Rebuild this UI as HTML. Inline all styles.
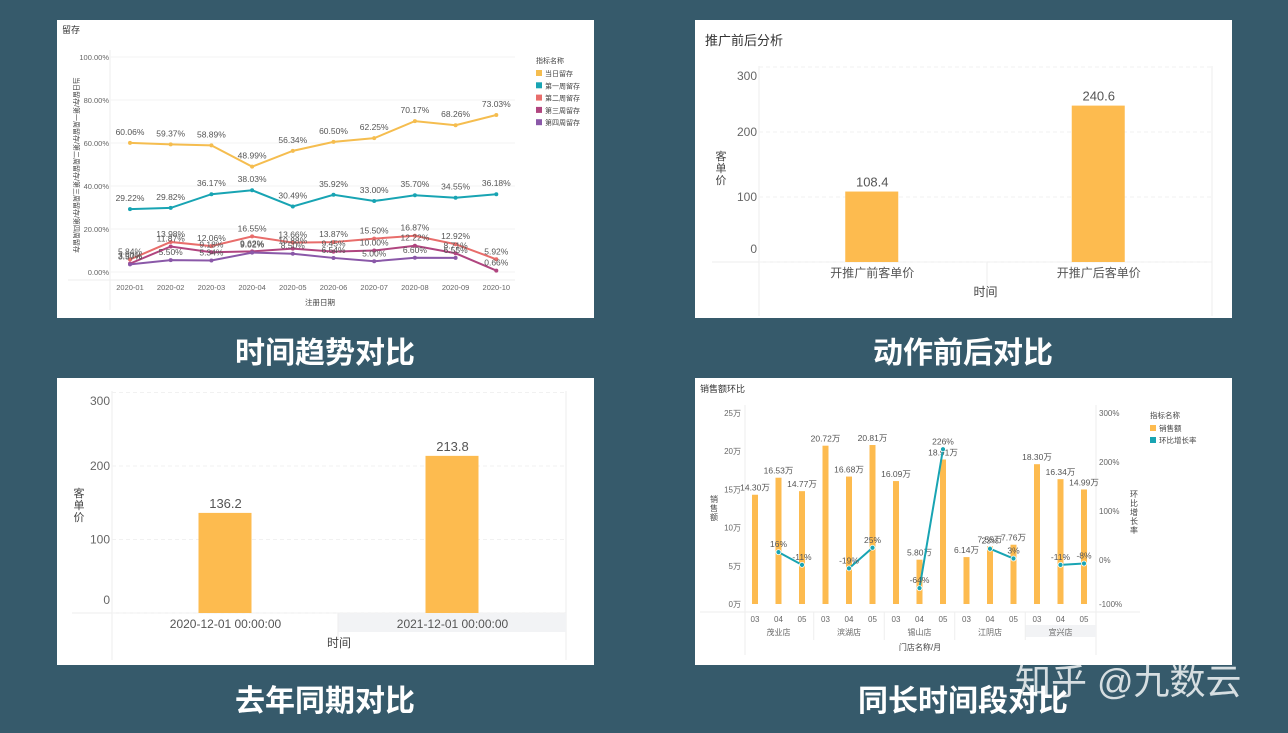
<!DOCTYPE html>
<html><head><meta charset="utf-8">
<style>
html,body{margin:0;padding:0;background:#365a6b;}
svg{display:block;font-family:"Liberation Sans","Noto Sans CJK SC",sans-serif;}
</style></head>
<body>
<svg id="s" width="1288" height="733" viewBox="0 0 1288 733" xmlns="http://www.w3.org/2000/svg">
<rect x="0" y="0" width="1288" height="733" fill="#365a6b"/>
<rect x="57" y="20" width="537" height="298" fill="#fff"/>
<rect x="695" y="20" width="537" height="298" fill="#fff"/>
<rect x="57" y="378" width="537" height="287" fill="#fff"/>
<rect x="695" y="378" width="537" height="287" fill="#fff"/>
<g fill="#fff" font-size="30" font-weight="bold" text-anchor="middle">
<text x="325" y="363">时间趋势对比</text>
<text x="963" y="363">动作前后对比</text>
<text x="325" y="711">去年同期对比</text>
<text x="963" y="711">同长时间段对比</text>
</g>
<text x="1015" y="694" fill="#fff" fill-opacity="0.8" font-size="36">知乎 @九数云</text>
<g id="g1"></g><g id="g2"></g><g id="g3"></g><g id="g4"></g>
</svg>
<script>
// ---- chart 1 data
const months = ["2020-01","2020-02","2020-03","2020-04","2020-05","2020-06","2020-07","2020-08","2020-09","2020-10"];
const seriesNames = ["当日留存","第一周留存","第二周留存","第三周留存","第四周留存"];
const dayRet = [60.06,59.37,58.89,48.99,56.34,60.50,62.25,70.17,68.26,73.03];
const week1Ret = [29.22,29.82,36.17,38.03,30.49,35.92,33.00,35.70,34.55,36.18];
const week2Ret = [5.84,13.98,12.06,16.55,13.66,13.87,15.50,16.87,12.92,5.92];
const week3Ret = [3.90,11.87,9.18,9.62,10.88,9.45,10.00,12.22,8.71,0.66];
const week4Ret = [3.57,5.50,5.34,9.02,8.50,6.54,5.00,6.60,6.55,null];
const retTicks = [0,20,40,60,80,100];
// ---- chart 2 data
const promoCats = ["开推广前客单价","开推广后客单价"];
const promoVals = [108.4,240.6];
const priceTicks = [0,100,200,300];
// ---- chart 3 data
const yoyCats = ["2020-12-01 00:00:00","2021-12-01 00:00:00"];
const yoyVals = [136.2,213.8];
// ---- chart 4 data
const stores = ["茂业店","滨湖店","锡山店","江阴店","宜兴店"];
const storeMonths = ["03","04","05"];
const salesVals = [14.30,16.53,14.77,20.72,16.68,20.81,16.09,5.80,18.91,6.14,7.55,7.76,18.30,16.34,14.99];
const growthVals = [null,16,-11,null,-19,25,null,-64,226,null,23,3,null,-11,-8];
const salesTicks = [0,5,10,15,20,25];
const growthTicks = [-100,0,100,200,300];

const NS="http://www.w3.org/2000/svg";
function mk(p,tag,at,txt){const e=document.createElementNS(NS,tag);for(const k in at)e.setAttribute(k,at[k]);if(txt!=null)e.textContent=txt;p.appendChild(e);return e;}
const G="#666",LG="#eee";

// ===== chart 1
(function(){
const g=document.getElementById('g1');
const x=i=>130+i*40.7, y=v=>272-v*2.15;
let t=mk(g,'text',{x:62,y:33,'font-size':9,fill:'#333'},'留存');

mk(g,'line',{x1:110,y1:50,x2:110,y2:310,stroke:LG});
mk(g,'line',{x1:68,y1:280,x2:515,y2:280,stroke:LG});
retTicks.forEach(v=>{
 mk(g,'line',{x1:110,y1:y(v),x2:515,y2:y(v),stroke:'#f3f3f3'});
 const e=mk(g,'text',{x:109,y:y(v)+3,'font-size':7.5,fill:G,'text-anchor':'end'},v.toFixed(2)+'%');
 
});
months.forEach((m,i)=>{const e=mk(g,'text',{x:x(i),y:290,'font-size':7.5,fill:G,'text-anchor':'middle'},m);
 });
t=mk(g,'text',{x:320,y:305,'font-size':7.5,fill:'#444','text-anchor':'middle'},'注册日期');

t=mk(g,'text',{x:0,y:0,'font-size':7,fill:'#444','text-anchor':'middle',transform:'translate(74,165) rotate(90)'},'当日留存/第一周留存/第二周留存/第三周留存/第四周留存');

const all=[dayRet,week1Ret,week2Ret,week3Ret,week4Ret];
const cols=["#f5bd4f","#18a4b3","#e86d6b","#b0457f","#8a58a8"];
all.forEach((s,k)=>{
 let d='';s.forEach((v,i)=>{if(v!=null)d+=(d?'L':'M')+x(i)+','+y(v);});
 const p=mk(g,'path',{d:d,fill:'none',stroke:cols[k],'stroke-width':2});
 
 s.forEach((v,i)=>{if(v==null)return;
  const c=mk(g,'circle',{cx:x(i),cy:y(v),r:2,fill:cols[k]});
  
  const l=mk(g,'text',{x:x(i),y:y(v)-(k<2?8:5),'font-size':8.5,fill:'#555','text-anchor':'middle'},v.toFixed(2)+'%');
  
 });
});
t=mk(g,'text',{x:536,y:63,'font-size':7,fill:'#444'},'指标名称');

seriesNames.forEach((n,k)=>{
 mk(g,'rect',{x:536,y:70+k*12.3,width:6,height:6,fill:cols[k]});
 const e=mk(g,'text',{x:545,y:76+k*12.3,'font-size':7,fill:'#444'},n);
 
});
})();

// ===== bar charts 2 & 3
function barChart(gid,cats,vals,o){
 const g=document.getElementById(gid);
 const y=v=>o.base-v*o.k;
 mk(g,'line',{x1:o.x0,y1:o.top-2,x2:o.x0,y2:o.bot,stroke:LG});
 mk(g,'line',{x1:o.x1,y1:o.top-2,x2:o.x1,y2:o.bot,stroke:LG});
 mk(g,'line',{x1:o.px,y1:o.base,x2:o.x1,y2:o.base,stroke:LG});
 if(o.shade)mk(g,'rect',{x:o.mid,y:o.base,width:o.x1-o.mid,height:19,fill:'#f2f3f5'});
 mk(g,'line',{x1:o.mid,y1:o.base,x2:o.mid,y2:o.base+25,stroke:LG});
 priceTicks.forEach(v=>{
  mk(g,'line',{x1:o.x0,y1:y(v),x2:o.x1,y2:y(v),stroke:'#f1f1f1','stroke-dasharray':'4,3'});
  let ly=Math.min(Math.max(y(v)+4,o.top+12),o.base-9);
  const e=mk(g,'text',{x:o.x0-2,y:ly,'font-size':12,fill:G,'text-anchor':'end'},String(v));
  
 });
 const cw=(o.x1-o.x0)/cats.length;
 cats.forEach((c,i)=>{
  const cx=o.x0+cw*(i+0.5);
  const r=mk(g,'rect',{x:cx-27,y:y(vals[i]),width:53,height:vals[i]*o.k,fill:'#fdbb4f'});
  
  const l=mk(g,'text',{x:cx,y:y(vals[i])-5,'font-size':13,fill:'#555','text-anchor':'middle'},vals[i].toFixed(1));
  
  const tl=mk(g,'text',{x:cx,y:o.base+15,'font-size':12,fill:'#555','text-anchor':'middle'},c);
  
 });
 let t=mk(g,'text',{x:(o.x0+o.x1)/2,y:o.base+34,'font-size':12,fill:'#444','text-anchor':'middle'},'时间');
 
 ['客','单','价'].forEach((ch,i)=>{mk(g,'text',{x:o.tx,y:o.ty+i*12,'font-size':11,fill:'#444','text-anchor':'middle'},ch);});
}
barChart('g2',promoCats,promoVals,{base:262,k:0.65,top:68,bot:316,x0:759,x1:1212,mid:987,px:712,tx:721,ty:160,shade:false});
barChart('g3',yoyCats,yoyVals,{base:613,k:0.735,top:393,bot:660,x0:112,x1:566,mid:338,px:72,tx:79,ty:497,shade:true});
(function(){const t=mk(document.getElementById('g2'),'text',{x:705,y:45,'font-size':13,fill:'#333'},'推广前后分析');
})();

// ===== chart 4
(function(){
const g=document.getElementById('g4');
const x=i=>755+i*23.5;
const ys=v=>604-v*7.64;
const yg=v=>560-v*(v>=0?0.49:0.44);
let t=mk(g,'text',{x:700,y:392,'font-size':9,fill:'#333'},'销售额环比');

mk(g,'line',{x1:745,y1:405,x2:745,y2:655,stroke:LG});
mk(g,'line',{x1:1096,y1:405,x2:1096,y2:655,stroke:LG});
mk(g,'line',{x1:700,y1:612,x2:1140,y2:612,stroke:LG});
salesTicks.forEach(v=>{const e=mk(g,'text',{x:741,y:ys(v)+3,'font-size':8,fill:G,'text-anchor':'end'},v+'万');
 });
growthTicks.forEach(v=>{const e=mk(g,'text',{x:1099,y:(v>=0?560-v*0.49:604)+3,'font-size':8,fill:G},v+'%');
 });
salesVals.forEach((v,i)=>{
 const r=mk(g,'rect',{x:x(i)-3,y:ys(v),width:6,height:v*7.64,fill:'#fdbb4f'});
 
 const l=mk(g,'text',{x:x(i),y:ys(v)-4,'font-size':8.5,fill:'#555','text-anchor':'middle'},v.toFixed(2)+'万');
 
 const m=mk(g,'text',{x:x(i),y:622,'font-size':8,fill:G,'text-anchor':'middle'},storeMonths[i%3]);
 
});
mk(g,'rect',{x:1025,y:625,width:71,height:12,fill:'#f2f3f5'});
stores.forEach((s,j)=>{
 const e=mk(g,'text',{x:x(j*3+1),y:635,'font-size':8,fill:G,'text-anchor':'middle'},s);
 
 if(j>0)mk(g,'line',{x1:x(j*3)-11.75,y1:612,x2:x(j*3)-11.75,y2:640,stroke:LG});
});
t=mk(g,'text',{x:920,y:650,'font-size':8,fill:'#444','text-anchor':'middle'},'门店名称/月');

['销','售','额'].forEach((c,i)=>mk(g,'text',{x:714,y:502+i*9,'font-size':8,fill:'#444','text-anchor':'middle'},c));
['环','比','增','长','率'].forEach((c,i)=>mk(g,'text',{x:1134,y:497+i*9,'font-size':8,fill:'#444','text-anchor':'middle'},c));
let d='';
growthVals.forEach((v,i)=>{if(v==null){d+=' ';return;}d+=(d.endsWith(' ')||d===''?'M':'L')+x(i)+','+yg(v);});
const p=mk(g,'path',{d:d.replace(/ /g,''),fill:'none',stroke:'#18a4b3','stroke-width':2});

growthVals.forEach((v,i)=>{if(v==null)return;
 const c=mk(g,'circle',{cx:x(i),cy:yg(v),r:2.5,fill:'#18a4b3',stroke:'#fff','stroke-width':0.8});
 
 const l=mk(g,'text',{x:x(i),y:yg(v)-5,'font-size':8.5,fill:'#555','text-anchor':'middle'},v+'%');
 
});
t=mk(g,'text',{x:1150,y:418,'font-size':7.5,fill:'#444'},'指标名称');

mk(g,'rect',{x:1150,y:425,width:6,height:6,fill:'#fdbb4f'});
t=mk(g,'text',{x:1159,y:431,'font-size':7.5,fill:'#444'},'销售额');

mk(g,'rect',{x:1150,y:437,width:6,height:6,fill:'#18a4b3'});
t=mk(g,'text',{x:1159,y:443,'font-size':7.5,fill:'#444'},'环比增长率');

})();
</script>
</body></html>
